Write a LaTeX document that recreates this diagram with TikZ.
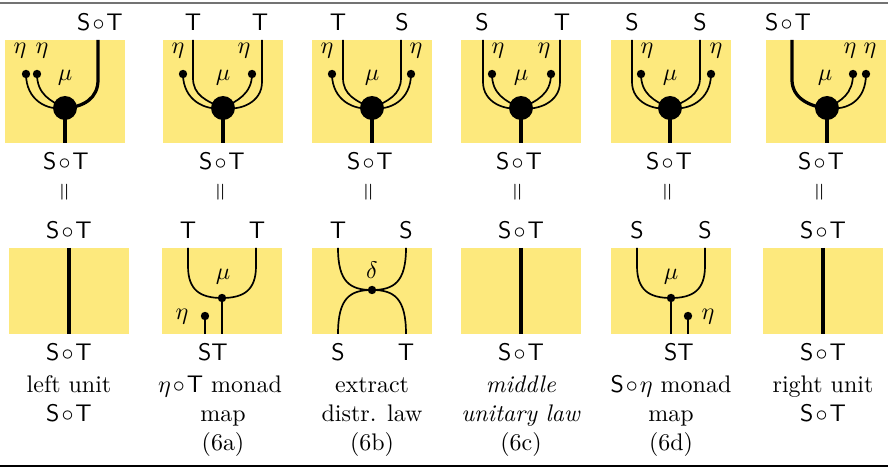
\documentclass[tikz,border=0pt]{standalone}
\usepackage{graphicx}
\definecolor{yel}{RGB}{253,233,125}
\newcommand\SoT{$\mathsf{S}\mkern1.5mu{\circ}\mkern1.5mu\mathsf{T}$}
\newcommand\eqv{\rotatebox{90}{$=$}}
\begin{document}
\begin{tikzpicture}[x=0.417pt,y=-0.417pt,
  panel/.style={fill=yel},
  thinw/.style={line width=0.7pt},
  thickw/.style={line width=1.35pt},
  bigdot/.style={circle,fill=black,inner sep=0pt,minimum size=10pt},
  sdot/.style={circle,fill=black,inner sep=0pt,minimum size=3.5pt},
  lb/.style={inner sep=0pt,anchor=base},
  lc/.style={inner sep=0pt,anchor=center},
]
\useasboundingbox (0,0) rectangle (888,467);
\draw[line width=0.8pt,black!55] (0,3) -- (888,3);
\draw[line width=0.8pt] (0,465.8) -- (888,465.8);

% ---------------- top panels ----------------
% panel 1
\fill[panel] (5,40) rectangle (125,143);
\node[bigdot] (mu1) at (65,108) {};
\node[sdot] (e1a) at (26,74) {};
\node[sdot] (e1b) at (37,74) {};
\coordinate (w1) at (98,40);
\coordinate (s1) at (65,143);
\draw[thinw] (e1a.center) .. controls (26,100) and (47,111) .. (mu1.center);
\draw[thinw] (e1b.center) .. controls (37,94) and (50,101) .. (mu1.center);
\draw[thickw] (w1) -- (98,80) .. controls (98,98) and (84,107) .. (mu1.center);
\draw[thickw] (mu1.center) -- (s1);
\node[lb] (t1) at (100,31) {\SoT};
\node[lc] (h1a) at (20,51) {$\eta$};
\node[lc] (h1b) at (42,51) {$\eta$};
\node[lc] (m1) at (65,78) {$\mu$};

% panel 2
\fill[panel] (163,40) rectangle (283,143);
\node[bigdot] (mu2) at (223,108) {};
\node[sdot] (e2a) at (183,74) {};
\node[sdot] (e2b) at (252,74) {};
\coordinate (w2a) at (193,40);
\coordinate (w2b) at (262,40);
\coordinate (s2) at (223,143);
\draw[thinw] (e2a.center) .. controls (183,100) and (205,111) .. (mu2.center);
\draw[thinw] (w2a) -- (193,78) .. controls (193,95) and (206,101) .. (mu2.center);
\draw[thinw] (e2b.center) .. controls (252,94) and (237,101) .. (mu2.center);
\draw[thinw] (w2b) -- (262,82) .. controls (262,102) and (241,111) .. (mu2.center);
\draw[thickw] (mu2.center) -- (s2);
\node[lb] (t2a) at (193,31) {$\mathsf{T}$};
\node[lb] (t2b) at (260,31) {$\mathsf{T}$};
\node[lc] (h2a) at (178,51) {$\eta$};
\node[lc] (h2b) at (244,51) {$\eta$};
\node[lc] (m2) at (223,78) {$\mu$};

% panel 3
\fill[panel] (312,40) rectangle (432,143);
\node[bigdot] (mu3) at (372,108) {};
\node[sdot] (e3a) at (332,74) {};
\node[sdot] (e3b) at (411,74) {};
\coordinate (w3a) at (343,40);
\coordinate (w3b) at (401,40);
\coordinate (s3) at (372,143);
\draw[thinw] (e3a.center) .. controls (332,100) and (354,111) .. (mu3.center);
\draw[thinw] (w3a) -- (343,78) .. controls (343,95) and (356,101) .. (mu3.center);
\draw[thinw] (w3b) -- (401,78) .. controls (401,95) and (388,101) .. (mu3.center);
\draw[thinw] (e3b.center) .. controls (411,100) and (390,111) .. (mu3.center);
\draw[thickw] (mu3.center) -- (s3);
\node[lb] (t3a) at (338,31) {$\mathsf{T}$};
\node[lb] (t3b) at (402,31) {$\mathsf{S}$};
\node[lc] (h3a) at (327,51) {$\eta$};
\node[lc] (h3b) at (416,51) {$\eta$};
\node[lc] (m3) at (372,78) {$\mu$};

% panel 4
\fill[panel] (461,40) rectangle (581,143);
\node[bigdot] (mu4) at (521,108) {};
\node[sdot] (e4a) at (492,74) {};
\node[sdot] (e4b) at (551,74) {};
\coordinate (w4a) at (483,40);
\coordinate (w4b) at (560,40);
\coordinate (s4) at (521,143);
\draw[thinw] (w4a) -- (483,82) .. controls (483,102) and (504,111) .. (mu4.center);
\draw[thinw] (e4a.center) .. controls (492,94) and (505,101) .. (mu4.center);
\draw[thinw] (e4b.center) .. controls (551,94) and (537,101) .. (mu4.center);
\draw[thinw] (w4b) -- (560,82) .. controls (560,102) and (538,111) .. (mu4.center);
\draw[thickw] (mu4.center) -- (s4);
\node[lb] (t4a) at (482,31) {$\mathsf{S}$};
\node[lb] (t4b) at (562,31) {$\mathsf{T}$};
\node[lc] (h4a) at (498,51) {$\eta$};
\node[lc] (h4b) at (544,51) {$\eta$};
\node[lc] (m4) at (521,78) {$\mu$};

% panel 5
\fill[panel] (611,40) rectangle (731,143);
\node[bigdot] (mu5) at (670,108) {};
\node[sdot] (e5a) at (641,74) {};
\node[sdot] (e5b) at (711,74) {};
\coordinate (w5a) at (632,40);
\coordinate (w5b) at (700,40);
\coordinate (s5) at (670,143);
\draw[thinw] (w5a) -- (632,82) .. controls (632,102) and (653,111) .. (mu5.center);
\draw[thinw] (e5a.center) .. controls (641,94) and (654,101) .. (mu5.center);
\draw[thinw] (w5b) -- (700,78) .. controls (700,95) and (686,101) .. (mu5.center);
\draw[thinw] (e5b.center) .. controls (711,100) and (689,111) .. (mu5.center);
\draw[thickw] (mu5.center) -- (s5);
\node[lb] (t5a) at (632,31) {$\mathsf{S}$};
\node[lb] (t5b) at (700,31) {$\mathsf{S}$};
\node[lc] (h5a) at (647,51) {$\eta$};
\node[lc] (h5b) at (716,51) {$\eta$};
\node[lc] (m5) at (670,78) {$\mu$};

% panel 6
\fill[panel] (766,40) rectangle (886,143);
\node[bigdot] (mu6) at (827,108) {};
\node[sdot] (e6a) at (853,74) {};
\node[sdot] (e6b) at (866,74) {};
\coordinate (w6) at (792,40);
\coordinate (s6) at (827,143);
\draw[thickw] (w6) -- (792,80) .. controls (792,98) and (810,107) .. (mu6.center);
\draw[thinw] (e6a.center) .. controls (853,94) and (841,101) .. (mu6.center);
\draw[thinw] (e6b.center) .. controls (866,100) and (848,111) .. (mu6.center);
\draw[thickw] (mu6.center) -- (s6);
\node[lb] (t6) at (788,31) {\SoT};
\node[lc] (h6a) at (850,51) {$\eta$};
\node[lc] (h6b) at (870,51) {$\eta$};
\node[lc] (m6) at (825,78) {$\mu$};

% labels under top panels and equals
\foreach \x [count=\i] in {66,222,370,519,669,821}{
  \node[lb] (u\i) at (\x,170) {\SoT};
  \node[lc] (q\i) at (\x,192) {\eqv};
}

% ---------------- bottom panels ----------------
% B1
\fill[panel] (9,248) rectangle (129,334);
\coordinate (a1) at (69,248);
\coordinate (z1) at (69,334);
\draw[thickw] (a1) -- (z1);
\node[lb] (bt1) at (69,239) {\SoT};
\node[lb] (bb1) at (69,361) {\SoT};
\node[lb] (c1a) at (69,393) {left unit};
\node[lb] (c1b) at (69,422) {\SoT};

% B2
\fill[panel] (162,248) rectangle (282,334);
\node[sdot] (d2) at (222,298) {};
\node[sdot] (n2) at (205,316) {};
\coordinate (a2a) at (188,248);
\coordinate (a2b) at (256,248);
\coordinate (z2a) at (205,334);
\coordinate (z2b) at (222,334);
\draw[thinw] (a2a) -- (188,266) .. controls (188,290) and (200,298) .. (d2.center);
\draw[thinw] (a2b) -- (256,266) .. controls (256,290) and (244,298) .. (d2.center);
\draw[thinw] (d2.center) -- (z2b);
\draw[thinw] (n2.center) -- (z2a);
\node[lb] (bt2a) at (188,239) {$\mathsf{T}$};
\node[lb] (bt2b) at (257,239) {$\mathsf{T}$};
\node[lc] (bm2) at (223,277) {$\mu$};
\node[lc] (bh2) at (182,317) {$\eta$};
\node[lb] (bb2) at (213,361) {$\mathsf{ST}$};
\node[lb] (c2a) at (220,393) {$\eta\mkern1.5mu{\circ}\mkern1.5mu\mathsf{T}$ monad};
\node[lb] (c2b) at (223,422) {map};
\node[lb] (c2c) at (223,450.5) {(6a)};

% B3
\fill[panel] (312,248) rectangle (432,334);
\node[sdot] (d3) at (372,290) {};
\coordinate (a3a) at (338,248);
\coordinate (a3b) at (406,248);
\coordinate (z3a) at (338,334);
\coordinate (z3b) at (406,334);
\draw[thinw] (a3a) .. controls (338,282) and (350,290) .. (d3.center);
\draw[thinw] (a3b) .. controls (406,282) and (394,290) .. (d3.center);
\draw[thinw] (d3.center) .. controls (350,290) and (338,298) .. (z3a);
\draw[thinw] (d3.center) .. controls (394,290) and (406,298) .. (z3b);
\node[lb] (bt3a) at (338,239) {$\mathsf{T}$};
\node[lb] (bt3b) at (406,239) {$\mathsf{S}$};
\node[lc] (bd3) at (372,270) {$\delta$};
\node[lb] (bb3a) at (338,361) {$\mathsf{S}$};
\node[lb] (bb3b) at (406,361) {$\mathsf{T}$};
\node[lb] (c3a) at (372,393) {extract};
\node[lb] (c3b) at (372,422) {distr. law};
\node[lb] (c3c) at (372,450.5) {(6b)};

% B4
\fill[panel] (461,248) rectangle (581,334);
\coordinate (a4) at (521,248);
\coordinate (z4) at (521,334);
\draw[thickw] (a4) -- (z4);
\node[lb] (bt4) at (521,239) {\SoT};
\node[lb] (bb4) at (521,361) {\SoT};
\node[lb] (c4a) at (521,393) {\textit{middle}};
\node[lb] (c4b) at (521,422) {\textit{unitary law}};
\node[lb] (c4c) at (521,450.5) {(6c)};

% B5
\fill[panel] (611,248) rectangle (731,334);
\node[sdot] (d5) at (671,298) {};
\node[sdot] (n5) at (688,316) {};
\coordinate (a5a) at (637,248);
\coordinate (a5b) at (705,248);
\coordinate (z5a) at (671,334);
\coordinate (z5b) at (688,334);
\draw[thinw] (a5a) -- (637,266) .. controls (637,290) and (649,298) .. (d5.center);
\draw[thinw] (a5b) -- (705,266) .. controls (705,290) and (693,298) .. (d5.center);
\draw[thinw] (d5.center) -- (z5a);
\draw[thinw] (n5.center) -- (z5b);
\node[lb] (bt5a) at (637,239) {$\mathsf{S}$};
\node[lb] (bt5b) at (705,239) {$\mathsf{S}$};
\node[lc] (bm5) at (671,277) {$\mu$};
\node[lc] (bh5) at (708,317) {$\eta$};
\node[lb] (bb5) at (679,361) {$\mathsf{ST}$};
\node[lb] (c5a) at (671,393) {$\mathsf{S}\mkern1.5mu{\circ}\mkern1.5mu\eta$ monad};
\node[lb] (c5b) at (671,422) {map};
\node[lb] (c5c) at (671,450.5) {(6d)};

% B6
\fill[panel] (763,248) rectangle (883,334);
\coordinate (a6) at (823,248);
\coordinate (z6) at (823,334);
\draw[thickw] (a6) -- (z6);
\node[lb] (bt6) at (823,239) {\SoT};
\node[lb] (bb6) at (823,361) {\SoT};
\node[lb] (c6a) at (823,393) {right unit};
\node[lb] (c6b) at (823,422) {\SoT};
\end{tikzpicture}
\end{document}
